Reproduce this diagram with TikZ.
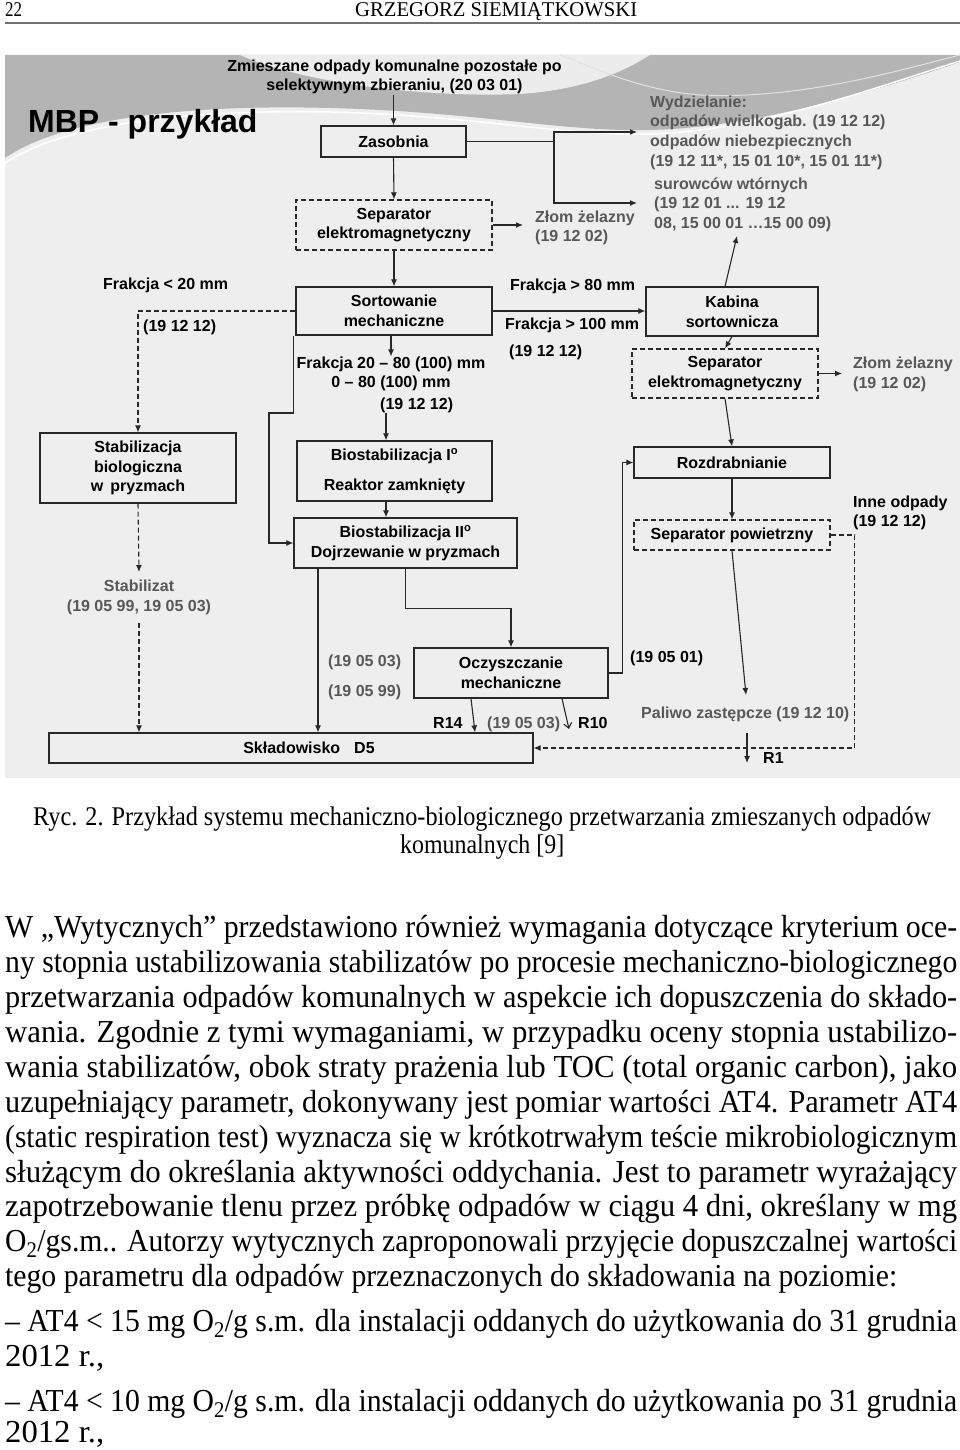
\documentclass[tikz,border=0pt]{standalone}
\usepackage{fontspec}
\usepackage{graphicx}
\usetikzlibrary{arrows.meta}
\newfontfamily\dsans{Liberation Sans}
\newfontfamily\bserif{Liberation Serif}
\definecolor{labgray}{RGB}{88,88,88}
\definecolor{lncol}{RGB}{40,40,40}
\definecolor{bgcol}{RGB}{238,238,238}
\definecolor{swoosh}{RGB}{180,180,180}
\newcommand\dsf{\dsans\bfseries\fontsize{16}{19.7}\selectfont}
\newcommand\bodyf{\bserif\fontsize{32}{35}\selectfont}
\newcommand\bline[4]{\node[anchor=base west,inner sep=0pt] (#1) at (5,#2) {\resizebox{#3}{\height}{\bodyf #4}};}
\tikzset{
 box/.style={draw=lncol, line width=1.2pt, inner sep=0pt, align=center, font=\dsf},
 dbox/.style={box, dash pattern=on 5pt off 3pt},
 lbl/.style={inner sep=0pt, font=\dsf},
 glbl/.style={lbl, text=labgray},
 ln/.style={draw=lncol, line width=1.1pt},
 arr/.style={ln, -{Latex[length=7pt,width=6pt]}},
 darr/.style={arr, dash pattern=on 5pt off 3pt},
}
\begin{document}
\begin{tikzpicture}[x=1pt,y=-1pt]
\useasboundingbox (0,0) rectangle (960,1450);
% header
\node[anchor=base west,inner sep=0pt] (pg) at (5,17) {\resizebox{17pt}{\height}{\bserif\fontsize{21}{24}\selectfont 22}};
\node[anchor=base west,inner sep=0pt] (au) at (355,17) {\resizebox{282pt}{\height}{\bserif\fontsize{21}{24}\selectfont GRZEGORZ SIEMIĄTKOWSKI}};
\draw[black!55, line width=1.8pt] (5,23) -- (960,23);
% diagram background
\fill[bgcol] (5,55) rectangle (960,778);
\fill[swoosh] (5,55) -- (960,55) -- (960,62) .. controls (850,100) and (740,128) .. (650,130) .. controls (560,132) and (480,112) .. (330,108) .. controls (180,104) and (60,120) .. (5,158) -- cycle;
\fill[white!75!swoosh] (240,55) .. controls (300,82) and (420,98) .. (520,94) .. controls (580,90) and (620,74) .. (650,55) -- cycle;
\draw[white, line width=1.5pt] (5,163) .. controls (60,126) and (180,109) .. (330,112) .. controls (480,116) and (560,136) .. (650,134) .. controls (760,131) and (880,86) .. (960,61);
\draw[white!60!swoosh, line width=1pt] (560,55) .. controls (600,70) and (640,90) .. (700,95) .. controls (800,100) and (900,70) .. (960,55);
% title
\node[anchor=base west,inner sep=0pt,font=\dsans\bfseries\fontsize{32}{36}\selectfont] (title) at (28,133) {MBP - przykład};
\node[lbl, align=center] (top) at (394.5,77) {Zmieszane odpady komunalne pozostałe po\\selektywnym zbieraniu, (20 03 01)};
% boxes
\node[box, minimum width=145pt, minimum height=31pt] (zas) at (393.5,141.5) {Zasobnia};
\node[dbox, minimum width=196pt, minimum height=50pt] (sep1) at (394,225) {Separator\\elektromagnetyczny};
\node[box, minimum width=196pt, minimum height=48pt] (sort) at (394,311) {Sortowanie\\mechaniczne};
\node[box, minimum width=196pt, minimum height=70pt] (stab) at (138,468) {Stabilizacja\\biologiczna\\w\, pryzmach};
\node[box, minimum width=195pt, minimum height=60pt] (bio1) at (394.5,471) {Biostabilizacja I\textsuperscript{o}\\[10pt]Reaktor zamknięty};
\node[box, minimum width=223pt, minimum height=50pt] (bio2) at (405.5,543) {Biostabilizacja II\textsuperscript{o}\\Dojrzewanie w pryzmach};
\node[box, minimum width=194pt, minimum height=50pt] (ocz) at (511,673) {Oczyszczanie\\mechaniczne};
\node[box, minimum width=484pt, minimum height=30pt] (skl) at (291,748) {\hspace*{36pt}Składowisko\hspace{14pt}D5};
\node[box, minimum width=172pt, minimum height=49pt] (kab) at (732,311.5) {Kabina\\sortownicza};
\node[dbox, minimum width=186pt, minimum height=49pt] (sep2) at (725,373.5) {Separator\\elektromagnetyczny};
\node[box, minimum width=196pt, minimum height=31pt] (roz) at (732,462.5) {Rozdrabnianie};
\node[dbox, minimum width=196pt, minimum height=30pt] (sepp) at (732,535) {Separator powietrzny};
% labels
\node[glbl, align=left, anchor=west] (wyd) at (650,132.5) {Wydzielanie:\\odpadów wielkogab. (19 12 12)\\odpadów niebezpiecznych\\(19 12 11*, 15 01 10*, 15 01 11*)};
\node[glbl, align=left, anchor=west] (sur) at (654,204.5) {surowców wtórnych\\(19 12 01 ... 19 12\\08, 15 00 01 …15 00 09)};
\node[glbl, align=left, anchor=west] (zlom1) at (535,228) {Złom żelazny\\(19 12 02)};
\node[glbl, align=left, anchor=west] (zlom2) at (853,374.5) {Złom żelazny\\(19 12 02)};
\node[lbl, align=left, anchor=west] (inne) at (853,513) {Inne odpady\\(19 12 12)};
\node[glbl, align=center, inner ysep=8pt] (stabt) at (139,597.5) {Stabilizat\\(19 05 99, 19 05 03)};
\node[lbl, align=center] (fr) at (391,374) {Frakcja 20 – 80 (100) mm\\0 – 80 (100) mm};
\node[lbl, anchor=base west] (fr3) at (380,409) {(19 12 12)};
\node[lbl, anchor=base west] (frak20) at (103,289) {Frakcja < 20 mm};
\node[lbl, anchor=base west] (c1912a) at (143,331) {(19 12 12)};
\node[lbl, anchor=base west] (fr80) at (510,290) {Frakcja > 80 mm};
\node[lbl, anchor=base west] (fr100) at (505,329) {Frakcja > 100 mm};
\node[lbl, anchor=base west] (c1912b) at (509,356) {(19 12 12)};
\node[glbl, anchor=base west] (c0503a) at (328,666) {(19 05 03)};
\node[glbl, anchor=base west] (c0599) at (328,696) {(19 05 99)};
\node[lbl, anchor=base west] (c0501) at (630,662) {(19 05 01)};
\node[lbl, anchor=base west] (r14) at (433,728) {R14};
\node[glbl, anchor=base west] (c0503b) at (487,728) {(19 05 03)};
\node[lbl, anchor=base west] (r10) at (578,728) {R10};
\node[glbl, anchor=base west] (pal) at (641,718) {Paliwo zastępcze (19 12 10)};
\node[lbl, anchor=base west] (r1) at (763,763) {R1};
% coordinates
\coordinate (jz) at (554,141.5);
\coordinate (wa) at (637,132);
\coordinate (wb) at (637,203);
\coordinate (byA) at (269,413);
\coordinate (r10e) at (569,729);
\coordinate (surA) at (737,236);
\coordinate (palA) at (746,695);
\coordinate (r1a) at (747,733);
\coordinate (r1b) at (747,763);
% connectors
\draw[arr] (top.south -| zas.north) -- (zas.north);
\draw[ln] (zas.east) -- (jz);
\draw[arr] (jz) |- (wa);
\draw[arr] (jz) |- (wb);
\draw[arr] (zas.south) -- (sep1.north);
\draw[arr, shorten >=12pt] (sep1.east) -- (sep1.east -| zlom1.west);
\draw[arr] (sep1.south) -- (sort.north);
\draw[darr] (sort.west) -| (stab.north);
\draw[darr] (stab.south) -- (stabt.north);
\draw[darr] (stabt.south) -- (stabt.south |- skl.north);
\draw[arr] (sort.south -| fr.north) -- (fr.north);
\draw[arr] ([xshift=-8.5pt]bio1.north |- fr3.south) -- ([xshift=-8.5pt]bio1.north);
\draw[arr] ([xshift=-8.5pt]bio1.south) -- ([xshift=-8.5pt]bio1.south |- bio2.north);
\draw[arr] ([xshift=-2pt]sort.south west) |- (byA) |- (bio2.west);
\draw[arr] ([xshift=-87.5pt]bio2.south) -- ([xshift=-87.5pt]bio2.south |- skl.north);
\draw[arr] (bio2.south) -- ++(0,40) -| (ocz.north);
\draw[arr] (ocz.east) -- ++(14,0) |- (roz.west);
\draw[arr] ([xshift=-40pt]ocz.south) -- ([xshift=-36pt]ocz.south |- skl.north);
\draw[ln, -{Straight Barb[length=5pt,width=8pt]}] ([xshift=51pt]ocz.south) -- (r10e);
\draw[arr] (sort.east) -- (sort.east -| kab.west);
\draw[arr] ([xshift=-7pt]kab.north) -- (surA);
\draw[arr] (kab.south) -- (sep2.north);
\draw[arr, shorten >=11pt] (sep2.east) -- (sep2.east -| zlom2.west);
\draw[arr] (sep2.south) -- (roz.north);
\draw[arr] (roz.south) -- (sepp.north);
\draw[darr] (sepp.east) -- ++(24,0) |- (skl.east);
\draw[arr] (sepp.south) -- (palA);
\draw[arr] (r1a) -- (r1b);
% caption
\node[anchor=base west,inner sep=0pt] (cap1) at (33,825) {\resizebox{898pt}{\height}{\bserif\fontsize{27}{30}\selectfont Ryc. 2. Przykład systemu mechaniczno-biologicznego przetwarzania zmieszanych odpadów}};
\node[anchor=base west,inner sep=0pt] (cap2) at (400,853) {\resizebox{164pt}{\height}{\bserif\fontsize{27}{30}\selectfont komunalnych [9]}};
% body
\bline{b1}{937}{952pt}{W „Wytycznych” przedstawiono również wymagania dotyczące kryterium oce-}
\bline{b2}{972}{952pt}{ny stopnia ustabilizowania stabilizatów po procesie mechaniczno-biologicznego}
\bline{b3}{1007}{952pt}{przetwarzania odpadów komunalnych w aspekcie ich dopuszczenia do składo-}
\bline{b4}{1042}{952pt}{wania. Zgodnie z tymi wymaganiami, w przypadku oceny stopnia ustabilizo-}
\bline{b5}{1077}{952pt}{wania stabilizatów, obok straty prażenia lub TOC (total organic carbon), jako}
\bline{b6}{1112}{952pt}{uzupełniający parametr, dokonywany jest pomiar wartości AT4. Parametr AT4}
\bline{b7}{1147}{952pt}{(static respiration test) wyznacza się w krótkotrwałym teście mikrobiologicznym}
\bline{b8}{1182}{952pt}{służącym do określania aktywności oddychania. Jest to parametr wyrażający}
\bline{b9}{1216}{952pt}{zapotrzebowanie tlenu przez próbkę odpadów w ciągu 4 dni, określany w mg}
\bline{b10}{1251}{952pt}{O\textsubscript{2}/gs.m.. Autorzy wytycznych zaproponowali przyjęcie dopuszczalnej wartości}
\bline{b11}{1286}{892pt}{tego parametru dla odpadów przeznaczonych do składowania na poziomie:}
\bline{b12}{1331}{952pt}{– AT4 < 15 mg O\textsubscript{2}/g s.m. dla instalacji oddanych do użytkowania do 31 grudnia}
\bline{b13}{1366}{99pt}{2012 r.,}
\bline{b14}{1411}{952pt}{– AT4 < 10 mg O\textsubscript{2}/g s.m. dla instalacji oddanych do użytkowania po 31 grudnia}
\bline{b15}{1442}{99pt}{2012 r.,}
\end{tikzpicture}
\end{document}
